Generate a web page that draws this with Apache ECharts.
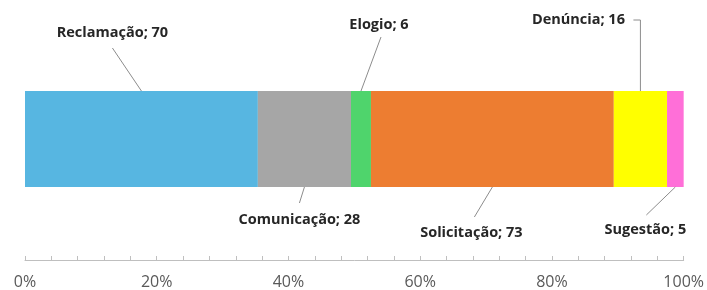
<!DOCTYPE html>
<html>
<head>
<meta charset="utf-8">
<script src="https://cdn.jsdelivr.net/npm/echarts@6/dist/echarts.min.js"></script>
<style>
html,body{margin:0;padding:0;background:#fff;}
#chart{width:707px;height:290px;}
</style>
</head>
<body>
<div id="chart"></div>
<script>
// ---- data ----
var categories = ['Reclamação', 'Comunicação', 'Elogio', 'Solicitação', 'Denúncia', 'Sugestão'];
var values = [70, 28, 6, 73, 16, 5];
var tickLabels = ['0%', '20%', '40%', '60%', '80%', '100%'];

// ---- styles / layout ----
var colors = ['#57B6E1', '#A6A6A6', '#4FD46C', '#ED7D31', '#FFFF00', '#FF6FD8'];
var BAR_W = 96;
// label placement relative to the segment's edge centre: side, text centre offset, leader line points
var labelLayouts = [
  { side: 'top',    text: [-29, -58], line: [[-29, -43]] },
  { side: 'bottom', text: [-5, 33],   line: [[-5, 16]] },
  { side: 'top',    text: [18, -66],  line: [[20, -54]] },
  { side: 'bottom', text: [-21, 46],  line: [[-18, 30]] },
  { side: 'top',    text: [-62, -71], line: [[-7, -71], [0, -71]] },
  { side: 'bottom', text: [-30, 43],  line: [[-29, 28]] }
];
var FONT = '"Open Sans", Lato, sans-serif';

var total = values.reduce(function (a, b) { return a + b; }, 0);
var fracs = values.map(function (v) { return v / total; });

var barSeries = categories.map(function (c, i) {
  return {
    name: c, type: 'bar', stack: 'all', barWidth: BAR_W,
    itemStyle: { color: colors[i] },
    data: [fracs[i]],
    silent: true, animation: false
  };
});

var labelData = [];
var cum = 0;
for (var i = 0; i < values.length; i++) {
  labelData.push([cum + fracs[i] / 2, 0, i]);
  cum += fracs[i];
}

var labelSeries = {
  type: 'custom',
  coordinateSystem: 'cartesian2d',
  data: labelData,
  z: 10,
  silent: true,
  animation: false,
  renderItem: function (params, api) {
    var idx = api.value(2);
    var p = api.coord([api.value(0), 0]);
    var L = labelLayouts[idx];
    var ay = L.side === 'top' ? p[1] - BAR_W / 2 : p[1] + BAR_W / 2;
    var ax = p[0];
    var pts = L.line.map(function (q) { return [ax + q[0], ay + q[1]]; });
    pts.push([ax, ay]);
    return {
      type: 'group',
      children: [
        { type: 'polyline', shape: { points: pts }, style: { stroke: '#8C8C8C', lineWidth: 1, fill: null } },
        { type: 'text', x: ax + L.text[0], y: ay + L.text[1],
          style: { text: categories[idx] + '; ' + values[idx], fill: '#262626',
                   font: 'bold 14.5px ' + FONT, align: 'center', verticalAlign: 'middle' } }
      ]
    };
  }
};

var chart = echarts.init(document.getElementById('chart'));
chart.setOption({
  animation: false,
  grid: { left: 25, right: 22, top: 18, bottom: 30, containLabel: false },
  xAxis: {
    type: 'value', min: 0, max: 1, interval: 0.2,
    axisLine: { show: true, lineStyle: { color: '#BFBFBF', width: 1 } },
    axisTick: { show: true, inside: true, length: 4, lineStyle: { color: '#BFBFBF' } },
    minorTick: { show: true, splitNumber: 5, length: 4, lineStyle: { color: '#BFBFBF' } },
    splitLine: { show: false },
    axisLabel: {
      margin: 14, color: '#595959', fontSize: 16, fontFamily: FONT,
      formatter: function (v) { return tickLabels[Math.round(v / 0.2)]; }
    }
  },
  yAxis: { type: 'category', data: [''], show: false },
  series: barSeries.concat([labelSeries])
});
</script>
</body>
</html>
